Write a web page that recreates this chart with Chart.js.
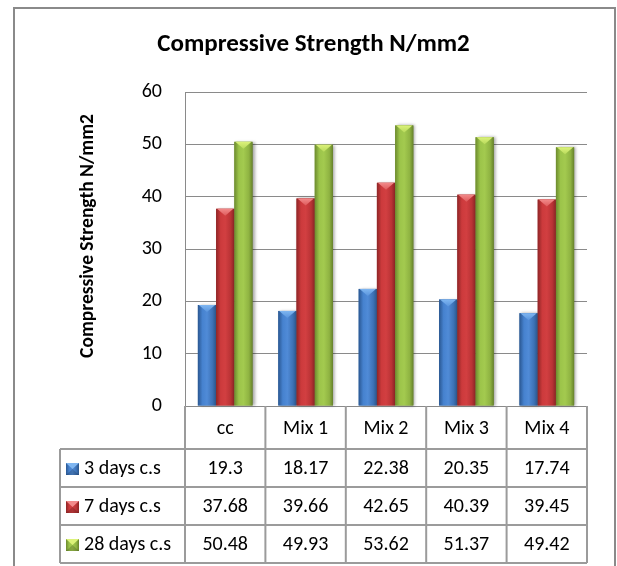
<!DOCTYPE html>
<html>
<head>
<meta charset="utf-8">
<title>Compressive Strength N/mm2</title>
<script src="https://cdn.jsdelivr.net/npm/chart.js@4.4.1/dist/chart.umd.min.js"></script>
<style>
  html, body { margin: 0; padding: 0; background: #ffffff; }
  #wrap { width: 617px; height: 566px; position: relative; }
</style>
</head>
<body>
<div id="wrap"><canvas id="chart" width="617" height="566"></canvas></div>
<script>
// Mix designs along the x axis
const categories = ['cc', 'Mix 1', 'Mix 2', 'Mix 3', 'Mix 4'];
// Series names
const seriesNames = ['3 days c.s', '7 days c.s', '28 days c.s'];
// Compressive strength values (N/mm2)
const days3 = [19.3, 18.17, 22.38, 20.35, 17.74];
const days7 = [37.68, 39.66, 42.65, 40.39, 39.45];
const days28 = [50.48, 49.93, 53.62, 51.37, 49.42];
// Value axis
const yMin = 0;
const yMax = 60;
const yStep = 10;

const FONT = 'Carlito, Calibri, Lato, sans-serif';
const TEXT_SIZE = 20;
const GRID = '#8a8a8a';
const TABLE_LINE = '#9b9b9b';

// Colour ramps for the bevelled, cylinder-like bars
const palette = [
  { base: '#4a7ebb',
    stops: [[0, '#2a5791'], [0.25, '#4682cf'], [0.5, '#508bd7'], [0.8, '#3d72b6'], [1, '#2b5589']],
    cap: '#7fb6f1', capDark: '#5a95dd' },
  { base: '#c0504d',
    stops: [[0, '#8e2526'], [0.25, '#cc3a3c'], [0.5, '#d23f41'], [0.8, '#b93335'], [1, '#8a2424']],
    cap: '#f28a8a', capDark: '#de5a5b' },
  { base: '#9bbb59',
    stops: [[0, '#6c8a2e'], [0.25, '#9cc44a'], [0.5, '#a3ca4f'], [0.8, '#8fb342'], [1, '#67822b']],
    cap: '#dcf27a', capDark: '#b8da5c' }
];

const seriesData = [days3, days7, days28];

// Bars: gradient body, light chevron cap, soft drop shadow
const bevelBars = {
  id: 'bevelBars',
  afterDatasetsDraw(chart) {
    const ctx = chart.ctx;
    chart.data.datasets.forEach((ds, di) => {
      const meta = chart.getDatasetMeta(di);
      const pal = palette[di];
      meta.data.forEach((bar) => {
        const p = bar.getProps(['x', 'y', 'base', 'width'], true);
        const l = p.x - p.width / 2;
        const r = p.x + p.width / 2;
        const top = p.y;
        const bottom = p.base;
        ctx.save();
        ctx.shadowColor = 'rgba(0,0,0,0.35)';
        ctx.shadowBlur = 3;
        ctx.shadowOffsetX = 2;
        ctx.shadowOffsetY = 0;
        const g = ctx.createLinearGradient(l, 0, r, 0);
        pal.stops.forEach(s => g.addColorStop(s[0], s[1]));
        ctx.fillStyle = g;
        ctx.fillRect(l, top, r - l, bottom - top);
        ctx.restore();
        // chevron cap on top of the bar
        const depth = Math.min(7, (bottom - top) / 2);
        ctx.save();
        const cg = ctx.createLinearGradient(0, top, 0, top + depth);
        cg.addColorStop(0, pal.cap);
        cg.addColorStop(1, pal.capDark);
        ctx.fillStyle = cg;
        ctx.beginPath();
        ctx.moveTo(l + 1, top);
        ctx.lineTo(r - 1, top);
        ctx.lineTo(p.x, top + depth);
        ctx.closePath();
        ctx.fill();
        ctx.restore();
      });
    });
  }
};

// Frame, rotated axis title and the data table under the plot
const decorations = {
  id: 'decorations',
  beforeDraw(chart) {
    const ctx = chart.ctx;
    ctx.save();
    ctx.fillStyle = '#ffffff';
    ctx.fillRect(0, 0, chart.width, chart.height);
    ctx.restore();
  },
  afterDraw(chart) {
    const ctx = chart.ctx;
    const xs = chart.scales.x;
    const ys = chart.scales.y;

    // outer frame
    ctx.save();
    ctx.strokeStyle = '#8a8a8a';
    ctx.lineWidth = 2;
    ctx.strokeRect(14, 8, 601, 620);
    ctx.restore();

    // rotated value-axis title
    ctx.save();
    ctx.translate(88, 236);
    ctx.rotate(-Math.PI / 2);
    ctx.font = 'bold 19.5px ' + FONT;
    ctx.fillStyle = '#000000';
    ctx.textAlign = 'center';
    ctx.textBaseline = 'middle';
    ctx.fillText('Compressive Strength N/mm2', 0, 0);
    ctx.restore();

    // data table
    const top = ys.getPixelForValue(yMin);
    const headerH = 43;
    const rowH = 38;
    const legendLeft = 60;
    const cols = [];
    for (let i = 0; i <= categories.length; i++) cols.push(xs.getPixelForValue(i - 0.5));
    const rowsY = [top + headerH];
    for (let i = 1; i <= seriesNames.length; i++) rowsY.push(top + headerH + rowH * i);
    const tableBottom = rowsY[rowsY.length - 1];

    ctx.save();
    ctx.strokeStyle = TABLE_LINE;
    ctx.lineWidth = 2;
    ctx.beginPath();
    cols.forEach(x => { ctx.moveTo(x, top); ctx.lineTo(x, tableBottom); });
    ctx.moveTo(legendLeft, rowsY[0]); ctx.lineTo(legendLeft, tableBottom);
    rowsY.forEach(y => { ctx.moveTo(legendLeft, y); ctx.lineTo(cols[cols.length - 1], y); });
    ctx.stroke();

    ctx.fillStyle = '#000000';
    ctx.font = TEXT_SIZE + 'px ' + FONT;
    ctx.textBaseline = 'middle';
    ctx.textAlign = 'center';
    categories.forEach((c, i) => {
      ctx.fillText(c, xs.getPixelForValue(i), top + headerH / 2 + 1);
    });
    seriesNames.forEach((name, si) => {
      const cy = rowsY[si] + rowH / 2 + 1;
      seriesData[si].forEach((v, i) => {
        ctx.textAlign = 'center';
        ctx.fillText(String(v), xs.getPixelForValue(i), cy);
      });
      // legend key
      const pal = palette[si];
      const kx = 66, ky = cy - 6, kw = 13, kh = 12;
      const kg = ctx.createLinearGradient(kx, 0, kx + kw, 0);
      pal.stops.forEach(s => kg.addColorStop(s[0], s[1]));
      ctx.fillStyle = kg;
      ctx.fillRect(kx, ky, kw, kh);
      ctx.fillStyle = pal.cap;
      ctx.beginPath();
      ctx.moveTo(kx, ky); ctx.lineTo(kx + kw, ky); ctx.lineTo(kx + kw / 2, ky + kh / 2); ctx.closePath();
      ctx.fill();
      ctx.fillStyle = 'rgba(0,0,0,0.18)';
      ctx.beginPath();
      ctx.moveTo(kx, ky + kh); ctx.lineTo(kx + kw, ky + kh); ctx.lineTo(kx + kw / 2, ky + kh / 2); ctx.closePath();
      ctx.fill();
      ctx.fillStyle = '#000000';
      ctx.textAlign = 'left';
      ctx.fillText(name, 84, cy);
    });
    ctx.restore();
  }
};

new Chart(document.getElementById('chart'), {
  type: 'bar',
  data: {
    labels: categories,
    datasets: seriesNames.map((name, i) => ({
      label: name,
      data: seriesData[i],
      backgroundColor: palette[i].base,
      borderWidth: 0,
      categoryPercentage: 0.68,
      barPercentage: 1.0
    }))
  },
  options: {
    responsive: false,
    animation: false,
    devicePixelRatio: 1,
    layout: { padding: { left: 40, right: 30, top: 0, bottom: 160 } },
    plugins: {
      legend: { display: false },
      tooltip: { enabled: false },
      title: {
        display: true,
        text: 'Compressive Strength N/mm2',
        color: '#000000',
        font: { family: FONT, size: 25, weight: 'bold', lineHeight: 1.2 },
        padding: { top: 30, bottom: 32 }
      }
    },
    scales: {
      x: {
        display: false,
        offset: true
      },
      y: {
        min: yMin,
        max: yMax,
        afterFit(scale) { scale.width = 145; },
        ticks: {
          stepSize: yStep,
          color: '#000000',
          padding: 23,
          font: { family: FONT, size: TEXT_SIZE }
        },
        grid: { color: GRID, lineWidth: 1, drawTicks: false },
        border: { display: true, color: GRID, width: 1 }
      }
    }
  },
  plugins: [bevelBars, decorations]
});
</script>
</body>
</html>
